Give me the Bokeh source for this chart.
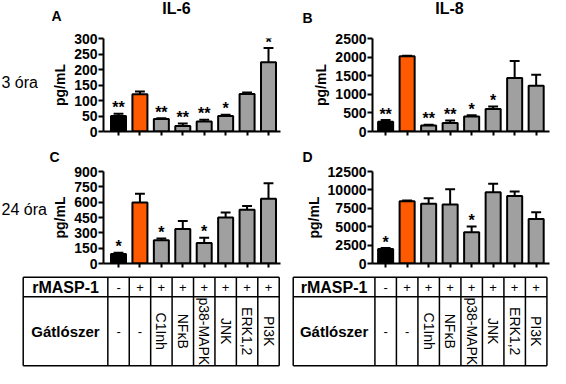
import math
from bokeh.plotting import figure
from bokeh.layouts import column, row
from bokeh.models import Range1d, FixedTicker
from bokeh.embed import file_html
from bokeh.resources import INLINE
from bokeh.core.properties import value

# ---------------- data ----------------
groups = ["kontroll", "rMASP-1", "C1Inh", "NFκB", "p38-MAPK", "JNK", "ERK1,2", "PI3K"]
rmasp_row = ["-", "+", "+", "+", "+", "+", "+", "+"]
inhib_row = ["-", "-", "C1Inh", "NFκB", "p38-MAPK", "JNK", "ERK1,2", "PI3K"]

il6_3h = [50, 120, 40, 18, 32, 50, 121, 223]
il6_3h_err = [7, 9, 3, 8, 6, 4, 5, 46]
il6_3h_sig = ["**", "", "**", "**", "**", "*", "", "*"]

il8_3h = [263, 2020, 158, 228, 404, 605, 1440, 1228]
il8_3h_err = [44, 15, 26, 70, 35, 70, 455, 298]
il8_3h_sig = ["**", "", "**", "**", "*", "*", "", ""]

il6_24h = [94, 597, 227, 338, 201, 451, 526, 633]
il6_24h_err = [10, 85, 17, 78, 52, 49, 36, 153]
il6_24h_sig = ["*", "", "*", "", "*", "", "", ""]

il8_24h = [1974, 8465, 8114, 8026, 4254, 9693, 9167, 6053]
il8_24h_err = [131, 85, 746, 2062, 790, 1140, 614, 921]
il8_24h_sig = ["*", "", "", "", "*", "", "", ""]

il6_3h_ticks = [0, 50, 100, 150, 200, 250, 300]
il8_3h_ticks = [0, 500, 1000, 1500, 2000, 2500]
il6_24h_ticks = [0, 150, 300, 450, 600, 750, 900]
il8_24h_ticks = [0, 2500, 5000, 7500, 10000, 12500]

bar_colors = ["black", "#ff5a00", "#a0a0a0", "#a0a0a0", "#a0a0a0", "#a0a0a0", "#a0a0a0", "#a0a0a0"]

FONT = "Liberation Sans"

# ---------------- geometry ----------------
LEFT_W, RIGHT_W = 285, 265
SIDE_W = 48
HDR1_H, PAN1_H = 24, 115
HDR2_H, PAN2_H = 24, 110
TAB_H = 95


def base_fig(W, H, bl, br, bt, bb, xr, yr, axes=True):
    kw = {}
    if not axes:
        kw = dict(x_axis_location=None, y_axis_location=None)
    p = figure(width=W, height=H, x_range=Range1d(*xr), y_range=Range1d(*yr),
               output_backend="svg", toolbar_location=None,
               min_border_left=bl, min_border_right=br,
               min_border_top=bt, min_border_bottom=bb, **kw)
    p.outline_line_color = None
    p.grid.visible = False
    return p


def text_fig(W, H, items):
    """items: list of (x_px, y_px, text, size, bold, align)"""
    p = base_fig(W, H, 0, 0, 0, 0, (0, W), (H, 0), axes=False)
    for (x, y, txt, size, bold, align) in items:
        p.text(x=[x], y=[y], text=[txt], text_align=align, text_baseline="middle",
               text_font=value(FONT), text_font_size=size,
               text_font_style="bold" if bold else "normal", text_color="black")
    return p


def panel(W, H, bl, br, bt, bb, xr, vals, errs, sig, ticks):
    p = base_fig(W, H, bl, br, bt, bb, xr, (0, ticks[-1]))
    xs = list(range(len(groups)))
    tops = [v + e for v, e in zip(vals, errs)]
    p.vbar(x=xs, top=vals, bottom=0, width=0.7, fill_color=bar_colors,
           line_color="black", line_width=2)
    p.segment(x0=xs, y0=vals, x1=xs, y1=tops, line_color="black", line_width=2)
    p.segment(x0=[i - 0.23 for i in xs], y0=tops, x1=[i + 0.23 for i in xs], y1=tops,
              line_color="black", line_width=2)
    si = [i for i in xs if sig[i]]
    p.text(x=si, y=[tops[i] for i in si], text=[sig[i] for i in si],
           text_align="center", text_baseline="middle",
           y_offset=-6, text_font=value(FONT), text_font_size="16px",
           text_font_style="bold", text_color="black")

    ya = p.yaxis[0]
    ya.ticker = FixedTicker(ticks=ticks)
    ya.minor_tick_line_color = None
    ya.major_tick_in = 0
    ya.major_tick_out = 5
    ya.axis_line_width = 2
    ya.major_tick_line_width = 2
    ya.major_label_text_font = FONT
    ya.major_label_text_font_style = "bold"
    ya.major_label_text_font_size = "14px"
    ya.major_label_text_color = "black"
    ya.major_label_standoff = 1
    ya.axis_label = "pg/mL"
    ya.axis_label_text_font = FONT
    ya.axis_label_text_font_style = "bold"
    ya.axis_label_text_font_size = "14px"
    ya.axis_label_text_color = "black"
    ya.axis_label_standoff = 3

    # x axis: unlabeled tick marks under each bar (drawn as minor ticks)
    xa = p.xaxis[0]
    xa.ticker = FixedTicker(ticks=[], minor_ticks=xs)
    xa.minor_tick_in = 0
    xa.minor_tick_out = 4
    xa.minor_tick_line_width = 2
    xa.minor_tick_line_color = "black"
    xa.major_tick_line_color = None
    xa.axis_line_width = 2
    xa.major_label_standoff = 0
    return p


def table(W, H, bl, br, bt, bb, xr, xleft):
    t = base_fig(W, H, bl, br, bt, bb, xr, (-0.02, 1.02), axes=False)
    n = len(groups)
    ysplit = 0.78
    xright = n - 0.5
    t.segment(x0=[xleft] * 3, y0=[0, ysplit, 1], x1=[xright] * 3, y1=[0, ysplit, 1],
              line_color="black", line_width=1.5)
    vx = [xleft] + [i - 0.5 for i in range(n + 1)]
    t.segment(x0=vx, y0=[0] * len(vx), x1=vx, y1=[1] * len(vx),
              line_color="black", line_width=1.5)
    lx = (xleft - 0.5) / 2
    t.text(x=[lx], y=[(1 + ysplit) / 2], text=["rMASP-1"],
           text_align="center", text_baseline="middle", text_font=value(FONT),
           text_font_size="16px", text_font_style="bold", text_color="black")
    t.text(x=[lx], y=[ysplit / 2], text=["Gátlószer"],
           text_align="center", text_baseline="middle", text_font=value(FONT),
           text_font_size="15px", text_font_style="bold", text_color="black")
    xs = list(range(n))
    t.text(x=xs, y=[(1 + ysplit) / 2] * n, text=rmasp_row, text_align="center",
           text_baseline="middle", text_font=value(FONT), text_font_size="13px",
           text_color="black")
    hor = [i for i in xs if inhib_row[i] == "-"]
    rot = [i for i in xs if inhib_row[i] != "-"]
    t.text(x=hor, y=[ysplit / 2] * len(hor), text=[inhib_row[i] for i in hor],
           text_align="center", text_baseline="middle", text_font=value(FONT),
           text_font_size="13px", text_color="black")
    t.text(x=rot, y=[ysplit / 2] * len(rot), text=[inhib_row[i] for i in rot],
           angle=-math.pi / 2, text_align="center", text_baseline="middle",
           text_font=value(FONT), text_font_size="14px", text_color="black")
    return t


# headers and side captions
hA = text_fig(LEFT_W, HDR1_H, [(176, 8, "IL-6", "16px", True, "center"),
                               (56, 15, "A", "14px", True, "center")])
hB = text_fig(RIGHT_W, HDR1_H, [(164, 8, "IL-8", "16px", True, "center"),
                                (22, 17, "B", "14px", True, "center")])
hC = text_fig(LEFT_W, HDR2_H, [(54, 17, "C", "14px", True, "center")])
hD = text_fig(RIGHT_W, HDR2_H, [(22, 17, "D", "14px", True, "center")])
sA = text_fig(SIDE_W, PAN1_H, [(1, 55, "3 óra", "16px", False, "left")])
sC = text_fig(SIDE_W, PAN2_H, [(1, 45, "24 óra", "16px", False, "left")])

pA = panel(LEFT_W - SIDE_W, PAN1_H, 103 - SIDE_W, 5, 14, 8, (-0.70, 7.56),
           il6_3h, il6_3h_err, il6_3h_sig, il6_3h_ticks)
pB = panel(RIGHT_W, PAN1_H, 87, 1, 14, 8, (-0.61, 7.62),
           il8_3h, il8_3h_err, il8_3h_sig, il8_3h_ticks)
pC = panel(LEFT_W - SIDE_W, PAN2_H, 103 - SIDE_W, 5, 8, 10, (-0.70, 7.56),
           il6_24h, il6_24h_err, il6_24h_sig, il6_24h_ticks)
pD = panel(RIGHT_W, PAN2_H, 87, 1, 8, 10, (-0.61, 7.62),
           il8_24h, il8_24h_err, il8_24h_sig, il8_24h_ticks)

tL = table(LEFT_W, TAB_H, 21, 5, 2, 1, (-4.53, 7.56), -4.45)
tR = table(RIGHT_W, TAB_H, 6, 1, 2, 1, (-4.38, 7.62), -4.30)

layout = column(
    row(hA, hB),
    row(sA, pA, pB),
    row(hC, hD),
    row(sC, pC, pD),
    row(tL, tR),
)

open("out.html", "w").write(file_html(layout, INLINE))
